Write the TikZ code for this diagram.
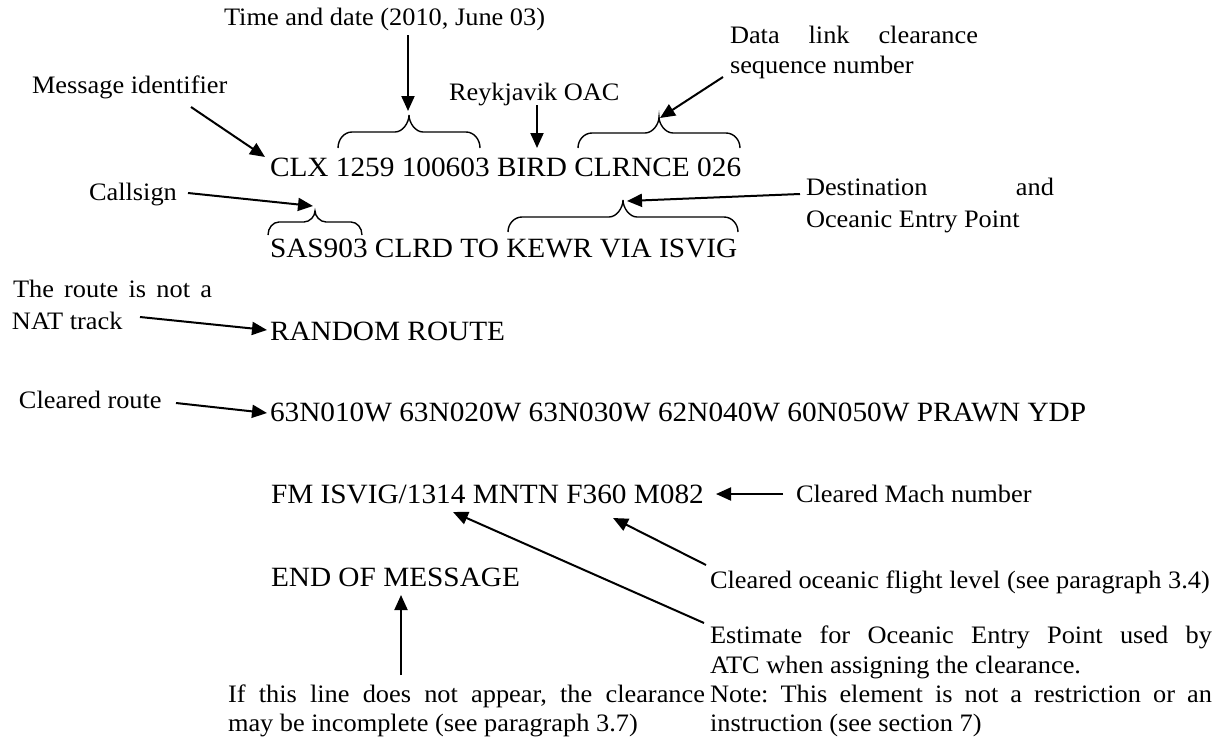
\documentclass[tikz,border=0pt]{standalone}
\usepackage{fontspec}
\setmainfont{Liberation Serif}[FakeStretch=1.05]
\usetikzlibrary{arrows.meta}
\frenchspacing
\tikzset{
  lab/.style={anchor=base west, inner sep=0pt, outer sep=0pt, font=\fontsize{25.1}{30}\selectfont\frenchspacing},
  msg/.style={anchor=base west, inner sep=0pt, outer sep=0pt, font=\fontsize{27.9}{34}\selectfont},
  arr/.style={line width=2pt, -{Triangle[length=15pt,width=13pt]}},
  brc/.style={line width=1.4pt},
}
\newcommand{\curlybrace}[6]{% x1 x2 ybottom yhoriz ytip r
  \draw[brc] (#1,#3) .. controls (#1,{#4+0.45*(#3-#4)}) and ({#1+0.45*#6},#4) .. ({#1+#6},#4)
    -- ({(#1+#2)/2-#6},#4) .. controls ({(#1+#2)/2-0.45*#6},#4) and ({(#1+#2)/2},{#5+0.45*(#4-#5)}) .. ({(#1+#2)/2},#5)
    .. controls ({(#1+#2)/2},{#5+0.45*(#4-#5)}) and ({(#1+#2)/2+0.45*#6},#4) .. ({(#1+#2)/2+#6},#4)
    -- ({#2-#6},#4) .. controls ({#2-0.45*#6},#4) and (#2,{#4+0.45*(#3-#4)}) .. (#2,#3);}
\begin{document}
\begin{tikzpicture}[x=1pt,y=-1pt]
\useasboundingbox (0,0) rectangle (1229,744);
% message lines
\node[msg] (l1) at (270,176) {CLX 1259 100603 BIRD CLRNCE 026};
\node[msg] (l2) at (270,257) {SAS903 CLRD TO KEWR VIA ISVIG};
\node[msg] (l3) at (270,340) {RANDOM ROUTE};
\node[msg] (l4) at (270,421) {63N010W 63N020W 63N030W 62N040W 60N050W PRAWN YDP};
\node[msg] (l5) at (271,503) {FM ISVIG/1314 MNTN F360 M082};
\node[msg] (l6) at (271,586) {END OF MESSAGE};
% labels
\node[lab] (time) at (224,25) {Time and date (2010, June 03)};
\node[lab] (msgid) at (32,93) {Message identifier};
\node[lab] (reyk) at (449,100) {Reykjavik OAC};
\node[lab] (data1) at (730,43) {\makebox[248pt][s]{Data link clearance}};
\node[lab] (data2) at (730,73) {sequence number};
\node[lab] (call) at (89,200) {Callsign};
\node[lab] (dest1) at (806,195) {\makebox[248pt][s]{Destination and}};
\node[lab] (dest2) at (806,227) {Oceanic Entry Point};
\node[lab] (rt1) at (13,297) {\makebox[199pt][s]{The route is not a}};
\node[lab] (rt2) at (12,329) {NAT track};
\node[lab] (clr) at (19,408) {Cleared route};
\node[lab] (mach) at (796,502) {Cleared Mach number};
\node[lab] (lvl) at (710,588) {Cleared oceanic flight level (see paragraph 3.4)};
\node[lab] (est1) at (710,643) {\makebox[502pt][s]{Estimate for Oceanic Entry Point used by}};
\node[lab] (est2) at (710,673) {ATC when assigning the clearance.};
\node[lab] (est3) at (710,702) {\makebox[502pt][s]{Note: This element is not a restriction or an}};
\node[lab] (est4) at (710,731) {instruction (see section 7)};
\node[lab] (end1) at (228,702) {\makebox[477pt][s]{If this line does not appear, the clearance}};
\node[lab] (end2) at (228,731) {may be incomplete (see paragraph 3.7)};
% braces
\curlybrace{338}{480}{148}{132}{115}{14}
\curlybrace{578}{740}{148}{133}{117}{14}
\curlybrace{268}{362}{235}{222}{211}{11}
\curlybrace{508}{738}{232}{217}{200}{14}
% connector ends
\coordinate (tA) at (408,35);   \coordinate (hA) at (408,111);
\coordinate (tB) at (191,107);  \coordinate (hB) at (265,157);
\coordinate (tC) at (537,105);  \coordinate (hC) at (537,148);
\coordinate (tD) at (723,77);   \coordinate (hD) at (660,118);
\coordinate (tE) at (188,193);  \coordinate (hE) at (313,206);
\coordinate (tF) at (800,194);  \coordinate (hF) at (627,201);
\coordinate (tG) at (140,317);  \coordinate (hG) at (267,330);
\coordinate (tH) at (176,403);  \coordinate (hH) at (267,413);
\coordinate (tI) at (783,494);  \coordinate (hI) at (716,494);
\coordinate (tJ) at (706,565);  \coordinate (hJ) at (613,518);
\coordinate (tK) at (704,623);  \coordinate (hK) at (453,512);
\coordinate (tL) at (401,675);  \coordinate (hL) at (401,595);
\foreach \s in {A,B,C,D,E,F,G,H,I,J,K,L} \draw[arr] (t\s) -- (h\s);
\end{tikzpicture}
\end{document}
